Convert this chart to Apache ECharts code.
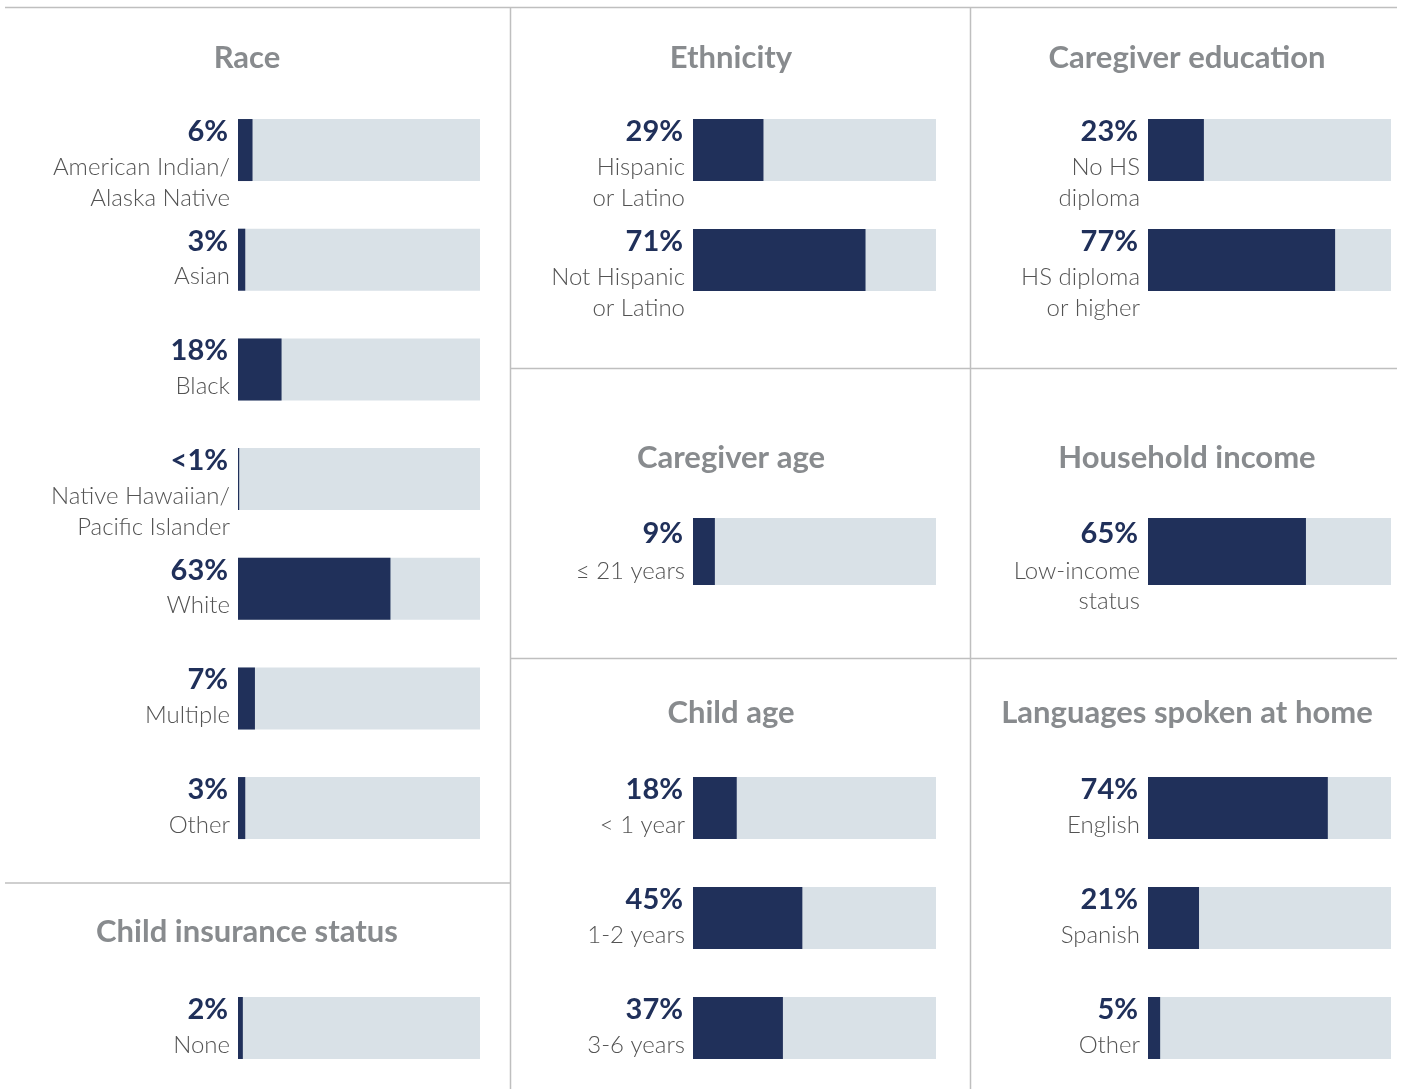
<!DOCTYPE html>
<html>
<head>
<meta charset="utf-8">
<script src="https://cdn.jsdelivr.net/npm/echarts@6/dist/echarts.min.js"></script>
<style>
html,body{margin:0;padding:0;background:#fff;}
#main{width:1401px;height:1089px;}
</style>
</head>
<body>
<div id="main"></div>
<script>
// ---- Data ----
const raceTitle = 'Race';
const raceCats = ['American Indian/\nAlaska Native', 'Asian', 'Black', 'Native Hawaiian/\nPacific Islander', 'White', 'Multiple', 'Other'];
const raceVals = [6, 3, 18, 0.5, 63, 7, 3];

const insuranceTitle = 'Child insurance status';
const insuranceCats = ['None'];
const insuranceVals = [2];

const ethnicityTitle = 'Ethnicity';
const ethnicityCats = ['Hispanic\nor Latino', 'Not Hispanic\nor Latino'];
const ethnicityVals = [29, 71];

const eduTitle = 'Caregiver education';
const eduCats = ['No HS\ndiploma', 'HS diploma\nor higher'];
const eduVals = [23, 77];

const cgAgeTitle = 'Caregiver age';
const cgAgeCats = ['≤ 21 years'];
const cgAgeVals = [9];

const incomeTitle = 'Household income';
const incomeCats = ['Low-income\nstatus'];
const incomeVals = [65];

const childAgeTitle = 'Child age';
const childAgeCats = ['< 1 year', '1-2 years', '3-6 years'];
const childAgeVals = [18, 45, 37];

const langTitle = 'Languages spoken at home';
const langCats = ['English', 'Spanish', 'Other'];
const langVals = [74, 21, 5];

// ---- Layout ----
const NAVY = '#20305a';
const BG = '#d9e1e7';
const TITLE_C = '#888b8e';
const CAT_C = '#535353';
const LINE_C = '#bfbfbf';

const panels = [
  { title: raceTitle, cats: raceCats, vals: raceVals, left: 238, width: 242, top: 95.2, height: 767.7, bw: 62, tx: 247, ty: 58, lab: 'a' },
  { title: insuranceTitle, cats: insuranceCats, vals: insuranceVals, left: 238, width: 242, top: 997, height: 62, bw: 62, tx: 247, ty: 931.5, lab: 'a' },
  { title: ethnicityTitle, cats: ethnicityCats, vals: ethnicityVals, left: 693, width: 243, top: 95, height: 220, bw: 62, tx: 731, ty: 58, lab: 'a' },
  { title: eduTitle, cats: eduCats, vals: eduVals, left: 1148, width: 243, top: 95, height: 220, bw: 62, tx: 1187, ty: 58, lab: 'a' },
  { title: cgAgeTitle, cats: cgAgeCats, vals: cgAgeVals, left: 693, width: 243, top: 518, height: 67, bw: 67, tx: 731, ty: 457.5, lab: 'b' },
  { title: incomeTitle, cats: incomeCats, vals: incomeVals, left: 1148, width: 243, top: 518, height: 67, bw: 67, tx: 1187, ty: 457.5, lab: 'b' },
  { title: childAgeTitle, cats: childAgeCats, vals: childAgeVals, left: 693, width: 243, top: 753, height: 330, bw: 62, tx: 731, ty: 712.5, lab: 'a' },
  { title: langTitle, cats: langCats, vals: langVals, left: 1148, width: 243, top: 753, height: 330, bw: 62, tx: 1187, ty: 712.5, lab: 'a' }
];

const labCfg = {
  a: { y0: -7.5, vLH: 40, cLH: 31 },
  b: { y0: -7.5, vLH: 45.5, cLH: 30 }
};

const grids = [], xAxes = [], yAxes = [], series = [], graphics = [];

panels.forEach((p, i) => {
  grids.push({ left: p.left, top: p.top, width: p.width, height: p.height, containLabel: false });
  xAxes.push({ gridIndex: i, type: 'value', min: 0, max: 100, show: false });
  yAxes.push({ gridIndex: i, type: 'category', data: p.cats, inverse: true, show: false });
  const lc = labCfg[p.lab];
  series.push({
    type: 'bar',
    xAxisIndex: i, yAxisIndex: i,
    data: p.vals,
    barWidth: p.bw,
    showBackground: true,
    backgroundStyle: { color: BG },
    itemStyle: { color: NAVY },
    silent: true,
    animation: false,
    label: {
      show: true,
      position: [-8, lc.y0],
      align: 'right',
      verticalAlign: 'top',
      formatter: function (prm) {
        const v = prm.value;
        const vt = v < 1 ? '<1%' : v + '%';
        const lines = String(prm.name).split('\n').map(s => '{c|' + s + '}');
        return '{v|' + vt + '}\n' + lines.join('\n');
      },
      rich: {
        v: { fontFamily: 'Lato', fontWeight: 'bold', fontSize: 29, color: NAVY, lineHeight: lc.vLH, align: 'right', padding: [0, 2, 0, 0] },
        c: { fontFamily: 'Lato', fontWeight: 300, fontSize: 24, color: CAT_C, lineHeight: lc.cLH, align: 'right' }
      }
    }
  });
  graphics.push({
    type: 'text', x: p.tx, y: p.ty, silent: true,
    style: { text: p.title, fill: TITLE_C, font: 'bold 31px Lato', textAlign: 'center', textVerticalAlign: 'middle' }
  });
});

// divider lines
const seg = (x1, y1, x2, y2) => ({ type: 'line', silent: true, shape: { x1, y1, x2, y2 }, style: { stroke: LINE_C, lineWidth: 1.5 } });
graphics.push(seg(5, 7.5, 1397, 7.5));
graphics.push(seg(510.5, 7.5, 510.5, 1089));
graphics.push(seg(970.5, 7.5, 970.5, 1089));
graphics.push(seg(510.5, 368.5, 1397, 368.5));
graphics.push(seg(510.5, 658.5, 1397, 658.5));
graphics.push(seg(5, 883, 510.5, 883));

const chart = echarts.init(document.getElementById('main'));
chart.setOption({
  animation: false,
  grid: grids,
  xAxis: xAxes,
  yAxis: yAxes,
  series: series,
  graphic: graphics
});
</script>
</body>
</html>
